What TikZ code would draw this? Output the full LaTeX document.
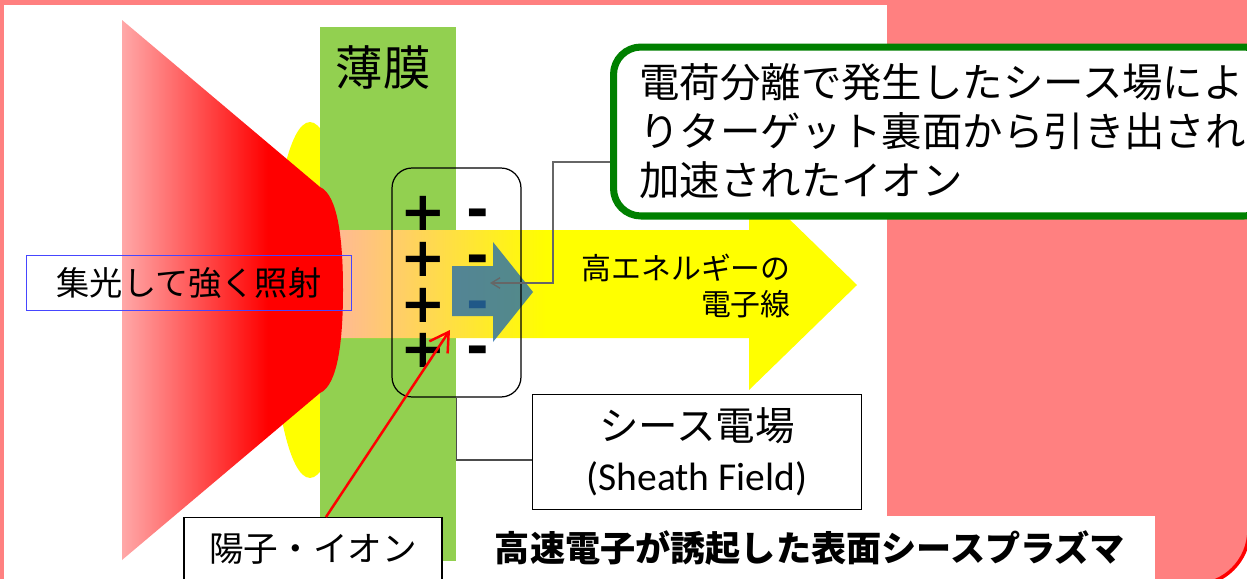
\documentclass[tikz,border=0pt]{standalone}
\usepackage{fontspec}
\usetikzlibrary{arrows.meta,fadings}
\newfontfamily\jp{Noto Sans CJK JP}
\newfontfamily\calibri{Carlito}
\newfontfamily\dejavu{DejaVu Sans}

\definecolor{slidepink}{RGB}{255,128,128}
\definecolor{filmgreen}{RGB}{146,208,80}
\definecolor{boxgreen}{RGB}{0,128,0}
\definecolor{beamyellow}{RGB}{255,255,0}
\definecolor{ionteal}{RGB}{40,110,170}
\definecolor{beamsalmon}{RGB}{255,180,160}
\definecolor{laserred}{RGB}{255,0,0}
\definecolor{laserpink}{RGB}{255,168,168}
\definecolor{lensblue}{RGB}{70,70,255}
\pgfdeclarehorizontalshading{laser}{100bp}{color(0bp)=(laserpink); color(25bp)=(laserpink); color(58bp)=(laserred); color(100bp)=(laserred)}

\begin{document}
\begin{tikzpicture}[x=0.02cm, y=-0.02cm, every node/.style={font=\jp, inner sep=0pt},
  box/.style={draw, line width=0.7pt, fill=white},
  plus/.style={font=\dejavu\bfseries\fontsize{31}{31}\selectfont},
  minus/.style={font=\dejavu\bfseries\fontsize{31}{31}\selectfont, yshift=-0.12cm}]
  \useasboundingbox (0,0) rectangle (1247,578);
  \clip (0,0) rectangle (1247,578);
  % slide background
  \fill[white] (0,0) rectangle (1247,578);
  \draw[fill=slidepink, draw=laserred, line width=2pt, rounded corners=1.1cm] (-100,-100) rectangle (1249,585);
  \fill[white] (4,5) rectangle (887,580);
  \fill[white] (480,516) rectangle (1155,580);
  % glow, film, electron beam, laser
  \fill[beamyellow] (310,300) ellipse [x radius=0.76cm, y radius=3.56cm];
  \fill[filmgreen] (320,27) rectangle (456,561);
  \node[font=\jp\fontsize{27}{30}\selectfont] (film) at (383,68) {薄膜};
  \fill[beamyellow] (320,230) -- (749,230) -- (749,180) -- (857,285) -- (749,390) -- (749,338) -- (320,338) -- cycle;
  \fill[beamsalmon, path fading=east] (320,230) rectangle (545,338);
  \shade[shading=laser] (122,20) -- (320,187) .. controls (338,195) and (343,240) .. (343,290)
    .. controls (343,340) and (338,385) .. (320,393) -- (122,560) -- cycle;
  % charges
  \foreach \y in {213,259,305,350} {
    \node[plus] at (423,\y) {+};
    \node[minus] at (478,\y) {-};
  }
  \fill[ionteal, opacity=0.8] (452,266) -- (493,266) -- (493,242) -- (533,292) -- (493,342) -- (493,316) -- (452,316) -- cycle;
  \node[draw, line width=0.7pt, rounded corners=0.4cm, minimum width=2.58cm, minimum height=4.58cm] (sheath) at (456.5,282.5) {};
  \coordinate (iontip) at (490,283);
  \coordinate (ptip) at (450,330);
  % labels
  \node[draw=lensblue, line width=0.6pt, minimum width=6.5cm, minimum height=1.1cm,
    font=\jp\fontsize{18.9}{20}\selectfont] (focus) at (189,283) {集光して強く照射};
  \node[align=right, anchor=east, font=\jp\fontsize{17}{20.4}\selectfont] (beam) at (791,286) {高エネルギーの\\電子線};
  \node[draw=boxgreen, line width=4pt, fill=white, rounded corners=0.55cm, anchor=west, align=left,
    inner xsep=0.52cm, minimum height=3.38cm, font=\jp\fontsize{23}{27.8}\selectfont] (ions) at (610,131.5)
    {電荷分離で発生したシース場によ\\りターゲット裏面から引き出され\\加速されたイオン};
  \draw[black!60, line width=0.75pt, -{Straight Barb[length=5pt,width=6pt]}]
    ([yshift=-0.61cm]ions.west) -| ([xshift=1.26cm]iontip) -- (iontip);
  \node[box, minimum width=6.58cm, minimum height=2.3cm, align=center,
    font=\jp\fontsize{22.5}{28.3}\selectfont] (field) at (697,452) {シース電場\\{\calibri (Sheath Field)}};
  \draw[black!70, line width=0.6pt] ([yshift=-0.16cm]field.west) -| (sheath.south);
  \node[box, anchor=north, minimum width=5.16cm, minimum height=1.26cm,
    font=\jp\fontsize{19.7}{22}\selectfont] (protons) at (313,517) {陽子・イオン};
  \draw[laserred, line width=1.4pt, -{Straight Barb[length=10.5pt,width=12.5pt]}] ([xshift=0.26cm]protons.north) -- (ptip);
  \node[font=\jp\bfseries\fontsize{20}{22}\selectfont] (caption) at (810,548) {高速電子が誘起した表面シースプラズマ};
\end{tikzpicture}
\end{document}
